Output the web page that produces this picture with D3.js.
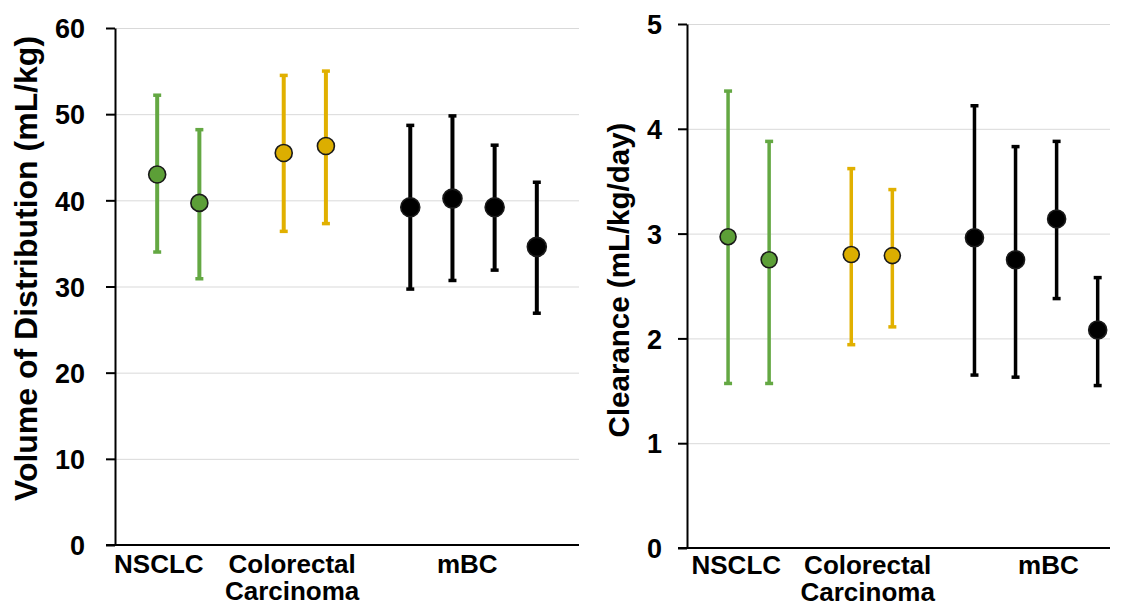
<!DOCTYPE html>
<html>
<head>
<meta charset="utf-8">
<script src="https://cdn.jsdelivr.net/npm/d3@7"></script>
<style>
    body { margin: 0; background: #fff; }
    svg text { font-family: "Liberation Sans", Arial, sans-serif; font-weight: bold; fill: #000; }
    .grid line { stroke: #d9d9d9; stroke-width: 1; }
    .grid path { display: none; }
    .y-axis path, .y-axis line { stroke: #000; stroke-width: 2; }
</style>
</head>
<body>
<div id="chart"></div>
<script>

// one study per slot, groups sit side by side on a shared slot scale
const groups = ["NSCLC", "NSCLC", "Colorectal", "Colorectal", "mBC", "mBC", "mBC", "mBC"];
const slots = [1, 2, 4, 5, 7, 8, 9, 10];

const groupNames = ["NSCLC", "Colorectal", "mBC"];
const groupLabels = [["NSCLC"], ["Colorectal", "Carcinoma"], ["mBC"]];
const groupLineColors = ["#64a843", "#e1b000", "#000000"];
const groupDotColors = ["#5c9f37", "#dcae00", "#000000"];

// Volume of distribution (mL/kg): mean and range
const vdMean = [43.0, 39.7, 45.5, 46.3, 39.2, 40.2, 39.2, 34.6];
const vdLow = [34.0, 30.9, 36.4, 37.3, 29.7, 30.7, 31.9, 26.9];
const vdHigh = [52.2, 48.2, 54.5, 55.0, 48.7, 49.8, 46.4, 42.1];
const vdTicks = [0, 10, 20, 30, 40, 50, 60];

// Clearance (mL/kg/day): mean and range
const clMean = [2.97, 2.75, 2.80, 2.79, 2.96, 2.75, 3.14, 2.08];
const clLow = [1.57, 1.57, 1.94, 2.11, 1.65, 1.63, 2.38, 1.55];
const clHigh = [4.36, 3.88, 3.62, 3.42, 4.22, 3.83, 3.88, 2.58];
const clTicks = [0, 1, 2, 3, 4, 5];

const svg = d3.select("#chart").append("svg")
    .attr("width", 1128)
    .attr("height", 607);

function drawPanel(opt) {
    let x = d3.scaleLinear()
        .domain([0, opt.slotEnd])
        .range([opt.left, opt.right]);

    let y = d3.scaleLinear()
        .domain([0, d3.max(opt.ticks)])
        .range([opt.bottom, opt.top]);

    let g = svg.append("g");

    // gridlines
    g.append("g")
        .attr("class", "grid")
        .attr("transform", "translate(" + opt.left + ",0)")
        .call(d3.axisLeft(y).tickValues(opt.ticks.slice(1)).tickSize(-(opt.right - opt.left)).tickFormat(""));

    // y axis
    let yAxis = g.append("g")
        .attr("class", "y-axis")
        .attr("transform", "translate(" + opt.left + ",0)")
        .call(d3.axisLeft(y)
            .tickValues(opt.ticks)
            .tickFormat(d3.format("d"))
            .tickSize(9)
            .tickSizeOuter(0)
            .tickPadding(opt.tickPad));
    yAxis.selectAll("text")
        .style("font-size", "27px")
        .attr("dy", "0.36em");

    // x axis line
    g.append("line")
        .attr("x1", x(0) - 9)
        .attr("x2", x(opt.slotEnd))
        .attr("y1", y(0))
        .attr("y2", y(0))
        .attr("stroke", "#000")
        .attr("stroke-width", 2);

    // y title
    g.append("text")
        .attr("transform", "translate(" + opt.titleX + "," + ((opt.top + opt.bottom) / 2 + opt.titleShift) + ") rotate(-90)")
        .attr("text-anchor", "middle")
        .style("font-size", opt.titleSize + "px")
        .text(opt.title);

    // category labels
    groupLabels.forEach(function(lines, i) {
        let t = g.append("text")
            .attr("text-anchor", "middle")
            .style("font-size", "26px");
        lines.forEach(function(line, j) {
            t.append("tspan")
                .attr("x", x(opt.labelSlots[i]))
                .attr("y", opt.bottom + opt.labelTop + j * 27)
                .text(line);
        });
    });

    let idx = d3.range(slots.length);
    let color = function(i, arr) {
        return arr[groupNames.indexOf(groups[i])];
    };

    // range bars
    g.selectAll(".bar")
        .data(idx)
        .enter().append("line")
        .attr("class", "bar")
        .attr("x1", function(i) { return x(slots[i]); })
        .attr("x2", function(i) { return x(slots[i]); })
        .attr("y1", function(i) { return y(opt.low[i]); })
        .attr("y2", function(i) { return y(opt.high[i]); })
        .attr("stroke", function(i) { return color(i, groupLineColors); })
        .attr("stroke-width", opt.barWidth);

    // caps
    [opt.low, opt.high].forEach(function(vals) {
        g.selectAll(null)
            .data(idx)
            .enter().append("line")
            .attr("x1", function(i) { return x(slots[i]) - 4; })
            .attr("x2", function(i) { return x(slots[i]) + 4; })
            .attr("y1", function(i) { return y(vals[i]); })
            .attr("y2", function(i) { return y(vals[i]); })
            .attr("stroke", function(i) { return color(i, groupLineColors); })
            .attr("stroke-width", 3.5);
    });

    // means
    g.selectAll(".dot")
        .data(idx)
        .enter().append("circle")
        .attr("class", "dot")
        .attr("cx", function(i) { return x(slots[i]); })
        .attr("cy", function(i) { return y(opt.mean[i]); })
        .attr("r", function(i) { return groups[i] === "mBC" ? opt.r + 1 : opt.r; })
        .attr("fill", function(i) { return color(i, groupDotColors); })
        .attr("stroke", "#1a1a1a")
        .attr("stroke-width", 1.6);
}

drawPanel({
    left: 115, right: 579, top: 28, bottom: 545,
    slotEnd: 11, ticks: vdTicks, tickPad: 21,
    mean: vdMean, low: vdLow, high: vdHigh,
    title: "Volume of Distribution (mL/kg)", titleX: 37, titleShift: -18, titleSize: 32,
    labelSlots: [1.04, 4.2, 8.35], labelTop: 28,
    r: 8.5, barWidth: 4
});

drawPanel({
    left: 687, right: 1110, top: 24, bottom: 548,
    slotEnd: 10.3, ticks: clTicks, tickPad: 16,
    mean: clMean, low: clLow, high: clHigh,
    title: "Clearance (mL/kg/day)", titleX: 629, titleShift: -6, titleSize: 29.5,
    labelSlots: [1.2, 4.4, 8.8], labelTop: 26,
    r: 8, barWidth: 3.5
});

</script>
</body>
</html>
